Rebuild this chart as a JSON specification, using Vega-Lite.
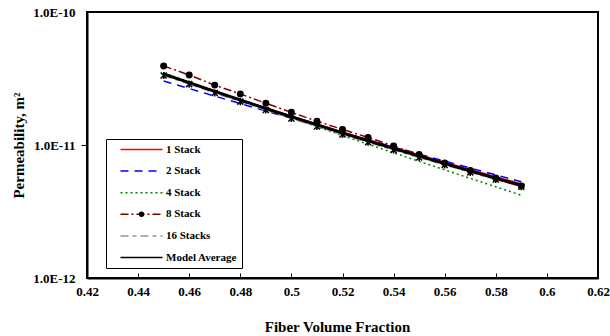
{
  "$schema": "https://vega.github.io/schema/vega-lite/v6.json",
  "width": 511,
  "height": 266,
  "autosize": {"type": "none"},
  "padding": {"left": 87, "top": 12, "right": 12, "bottom": 58},
  "background": "white",
  "config": {
    "font": "Liberation Serif",
    "view": {"stroke": "black", "strokeWidth": 2},
    "axis": {
      "grid": false,
      "domainColor": "black",
      "domainWidth": 2,
      "tickColor": "black",
      "tickWidth": 1,
      "labelColor": "black",
      "titleColor": "black",
      "labelFont": "Liberation Serif",
      "labelFontWeight": "bold",
      "labelFontSize": 13,
      "titleFont": "Liberation Serif",
      "titleFontWeight": "bold",
      "titleFontSize": 15
    }
  },
  "datasets": {
    "perm": [
      {"x": 0.45, "series": "1 Stack", "k": 3.42e-11},
      {"x": 0.46, "series": "1 Stack", "k": 2.95e-11},
      {"x": 0.47, "series": "1 Stack", "k": 2.54e-11},
      {"x": 0.48, "series": "1 Stack", "k": 2.19e-11},
      {"x": 0.49, "series": "1 Stack", "k": 1.90e-11},
      {"x": 0.50, "series": "1 Stack", "k": 1.65e-11},
      {"x": 0.51, "series": "1 Stack", "k": 1.436e-11},
      {"x": 0.52, "series": "1 Stack", "k": 1.253e-11},
      {"x": 0.53, "series": "1 Stack", "k": 1.096e-11},
      {"x": 0.54, "series": "1 Stack", "k": 9.61e-12},
      {"x": 0.55, "series": "1 Stack", "k": 8.44e-12},
      {"x": 0.56, "series": "1 Stack", "k": 7.42e-12},
      {"x": 0.57, "series": "1 Stack", "k": 6.54e-12},
      {"x": 0.58, "series": "1 Stack", "k": 5.78e-12},
      {"x": 0.59, "series": "1 Stack", "k": 5.11e-12},
      {"x": 0.45, "series": "2 Stack", "k": 3.03e-11},
      {"x": 0.46, "series": "2 Stack", "k": 2.66e-11},
      {"x": 0.47, "series": "2 Stack", "k": 2.33e-11},
      {"x": 0.48, "series": "2 Stack", "k": 2.05e-11},
      {"x": 0.49, "series": "2 Stack", "k": 1.80e-11},
      {"x": 0.50, "series": "2 Stack", "k": 1.588e-11},
      {"x": 0.51, "series": "2 Stack", "k": 1.40e-11},
      {"x": 0.52, "series": "2 Stack", "k": 1.235e-11},
      {"x": 0.53, "series": "2 Stack", "k": 1.09e-11},
      {"x": 0.54, "series": "2 Stack", "k": 9.64e-12},
      {"x": 0.55, "series": "2 Stack", "k": 8.54e-12},
      {"x": 0.56, "series": "2 Stack", "k": 7.57e-12},
      {"x": 0.57, "series": "2 Stack", "k": 6.71e-12},
      {"x": 0.58, "series": "2 Stack", "k": 5.96e-12},
      {"x": 0.59, "series": "2 Stack", "k": 5.30e-12},
      {"x": 0.45, "series": "4 Stack", "k": 3.48e-11},
      {"x": 0.46, "series": "4 Stack", "k": 2.97e-11},
      {"x": 0.47, "series": "4 Stack", "k": 2.54e-11},
      {"x": 0.48, "series": "4 Stack", "k": 2.18e-11},
      {"x": 0.49, "series": "4 Stack", "k": 1.865e-11},
      {"x": 0.50, "series": "4 Stack", "k": 1.60e-11},
      {"x": 0.51, "series": "4 Stack", "k": 1.373e-11},
      {"x": 0.52, "series": "4 Stack", "k": 1.179e-11},
      {"x": 0.53, "series": "4 Stack", "k": 1.014e-11},
      {"x": 0.54, "series": "4 Stack", "k": 8.74e-12},
      {"x": 0.55, "series": "4 Stack", "k": 7.53e-12},
      {"x": 0.56, "series": "4 Stack", "k": 6.50e-12},
      {"x": 0.57, "series": "4 Stack", "k": 5.61e-12},
      {"x": 0.58, "series": "4 Stack", "k": 4.85e-12},
      {"x": 0.59, "series": "4 Stack", "k": 4.19e-12},
      {"x": 0.45, "series": "8 Stack", "k": 3.93e-11},
      {"x": 0.46, "series": "8 Stack", "k": 3.36e-11},
      {"x": 0.47, "series": "8 Stack", "k": 2.82e-11},
      {"x": 0.48, "series": "8 Stack", "k": 2.42e-11},
      {"x": 0.49, "series": "8 Stack", "k": 2.06e-11},
      {"x": 0.50, "series": "8 Stack", "k": 1.76e-11},
      {"x": 0.51, "series": "8 Stack", "k": 1.51e-11},
      {"x": 0.52, "series": "8 Stack", "k": 1.31e-11},
      {"x": 0.53, "series": "8 Stack", "k": 1.14e-11},
      {"x": 0.54, "series": "8 Stack", "k": 9.83e-12},
      {"x": 0.55, "series": "8 Stack", "k": 8.48e-12},
      {"x": 0.56, "series": "8 Stack", "k": 7.32e-12},
      {"x": 0.57, "series": "8 Stack", "k": 6.43e-12},
      {"x": 0.58, "series": "8 Stack", "k": 5.65e-12},
      {"x": 0.59, "series": "8 Stack", "k": 4.92e-12},
      {"x": 0.45, "series": "16 Stacks", "k": 3.33e-11},
      {"x": 0.46, "series": "16 Stacks", "k": 2.87e-11},
      {"x": 0.47, "series": "16 Stacks", "k": 2.46e-11},
      {"x": 0.48, "series": "16 Stacks", "k": 2.12e-11},
      {"x": 0.49, "series": "16 Stacks", "k": 1.833e-11},
      {"x": 0.50, "series": "16 Stacks", "k": 1.582e-11},
      {"x": 0.51, "series": "16 Stacks", "k": 1.377e-11},
      {"x": 0.52, "series": "16 Stacks", "k": 1.199e-11},
      {"x": 0.53, "series": "16 Stacks", "k": 1.048e-11},
      {"x": 0.54, "series": "16 Stacks", "k": 9.17e-12},
      {"x": 0.55, "series": "16 Stacks", "k": 8.05e-12},
      {"x": 0.56, "series": "16 Stacks", "k": 7.07e-12},
      {"x": 0.57, "series": "16 Stacks", "k": 6.23e-12},
      {"x": 0.58, "series": "16 Stacks", "k": 5.50e-12},
      {"x": 0.59, "series": "16 Stacks", "k": 4.85e-12},
      {"x": 0.45, "series": "Model Average", "k": 3.42e-11},
      {"x": 0.46, "series": "Model Average", "k": 2.94e-11},
      {"x": 0.47, "series": "Model Average", "k": 2.53e-11},
      {"x": 0.48, "series": "Model Average", "k": 2.18e-11},
      {"x": 0.49, "series": "Model Average", "k": 1.88e-11},
      {"x": 0.50, "series": "Model Average", "k": 1.63e-11},
      {"x": 0.51, "series": "Model Average", "k": 1.42e-11},
      {"x": 0.52, "series": "Model Average", "k": 1.23e-11},
      {"x": 0.53, "series": "Model Average", "k": 1.076e-11},
      {"x": 0.54, "series": "Model Average", "k": 9.41e-12},
      {"x": 0.55, "series": "Model Average", "k": 8.25e-12},
      {"x": 0.56, "series": "Model Average", "k": 7.25e-12},
      {"x": 0.57, "series": "Model Average", "k": 6.38e-12},
      {"x": 0.58, "series": "Model Average", "k": 5.62e-12},
      {"x": 0.59, "series": "Model Average", "k": 4.96e-12}
    ]
  },
  "data": {"name": "perm"},
  "encoding": {
    "x": {
      "field": "x",
      "type": "quantitative",
      "scale": {"domain": [0.42, 0.62], "nice": false, "zero": false},
      "axis": {
        "values": [0.42, 0.44, 0.46, 0.48, 0.5, 0.52, 0.54, 0.56, 0.58, 0.6, 0.62],
        "format": ".2~f",
        "labelFlush": false,
        "labelOverlap": false,
        "tickSize": -5,
        "labelPadding": 12,
        "title": "Fiber Volume Fraction",
        "titleX": 250,
        "titleY": 53,
        "titleAlign": "center",
        "titleBaseline": "alphabetic"
      }
    },
    "y": {
      "field": "k",
      "type": "quantitative",
      "scale": {"type": "log", "domain": [1e-12, 1e-10], "nice": false},
      "axis": {
        "values": [1e-12, 1e-11, 1e-10],
        "labelExpr": "'1.0E' + round(log(datum.value) / LN10)",
        "tickSize": 6,
        "labelPadding": 6,
        "tickColor": {"condition": {"test": "datum.value > 5e-12 && datum.value < 5e-11", "value": "black"}, "value": "transparent"},
        "title": "Permeability, m²",
        "titleX": -64,
        "titleY": 133,
        "titleAngle": -90,
        "titleAlign": "center",
        "titleBaseline": "alphabetic"
      }
    }
  },
  "layer": [
    {
      "mark": {"type": "line", "clip": true},
      "encoding": {
        "color": {
          "field": "series",
          "type": "nominal",
          "scale": {
            "domain": ["1 Stack", "2 Stack", "4 Stack", "8 Stack", "16 Stacks", "Model Average"],
            "range": ["#FF0000", "#0000FF", "#008000", "#800000", "#969696", "#000000"]
          },
          "legend": {
            "orient": "none",
            "legendX": 19,
            "legendY": 127,
            "title": null,
            "direction": "vertical",
            "padding": 5,
            "fillColor": "white",
            "strokeColor": "black",
            "symbolType": "M-4.67,0L4.67,0",
            "symbolSize": 81,
            "symbolOffset": 25,
            "symbolStrokeWidth": 1.5,
            "labelOffset": 19,
            "labelFont": "Liberation Serif",
            "labelFontWeight": "bold",
            "labelFontSize": 11,
            "labelColor": "black",
            "rowPadding": 9.6,
            "labelExpr": "datum.label + '\u2007\u2007\u2007'"
          }
        },
        "strokeDash": {
          "field": "series",
          "type": "nominal",
          "scale": {
            "domain": ["1 Stack", "2 Stack", "4 Stack", "8 Stack", "16 Stacks", "Model Average"],
            "range": [[1, 0], [8, 6], [2, 3], [8, 3, 2, 3], [8, 4, 4, 4], [1, 0]]
          },
          "legend": {
            "orient": "none",
            "legendX": 19,
            "legendY": 127,
            "title": null,
            "direction": "vertical",
            "padding": 5,
            "fillColor": "white",
            "strokeColor": "black",
            "symbolType": "M-4.67,0L4.67,0",
            "symbolSize": 81,
            "symbolOffset": 25,
            "symbolStrokeWidth": 1.5,
            "labelOffset": 19,
            "labelFont": "Liberation Serif",
            "labelFontWeight": "bold",
            "labelFontSize": 11,
            "labelColor": "black",
            "rowPadding": 9.6,
            "labelExpr": "datum.label + '\u2007\u2007\u2007'"
          }
        },
        "strokeWidth": {"condition": {"test": "datum.series === 'Model Average'", "value": 3}, "value": 1.5}
      }
    },
    {
      "transform": [{"filter": {"field": "series", "oneOf": ["8 Stack", "16 Stacks"]}}],
      "mark": {"type": "point", "filled": true, "color": "black", "stroke": "black", "strokeWidth": 1.5, "size": 30, "opacity": 1},
      "encoding": {
        "shape": {
          "field": "series",
          "type": "nominal",
          "scale": {
            "domain": ["1 Stack", "2 Stack", "4 Stack", "8 Stack", "16 Stacks", "Model Average", "~"],
            "range": ["M0,0", "M0,0", "M0,0", "circle", "M-1.1,-1.1L1.1,1.1M-1.1,1.1L1.1,-1.1M0,-1.3L0,1.3", "M0,0", "M0,0"]
          },
          "legend": {
            "orient": "none",
            "legendX": 19,
            "legendY": 127,
            "title": null,
            "direction": "vertical",
            "padding": 5,
            "symbolSize": 30,
            "symbolOffset": 25,
            "symbolStrokeWidth": 1.5,
            "symbolFillColor": "black",
            "symbolStrokeColor": "black",
            "labelOpacity": 0,
            "labelFontSize": 11,
            "labelExpr": "'\u00a0'",
            "rowPadding": 9.6,
            "encode": {"symbols": {"update": {"stroke": {"value": "black"}, "strokeWidth": {"value": 1.5}}}}
          }
        }
      }
    }
  ]
}
